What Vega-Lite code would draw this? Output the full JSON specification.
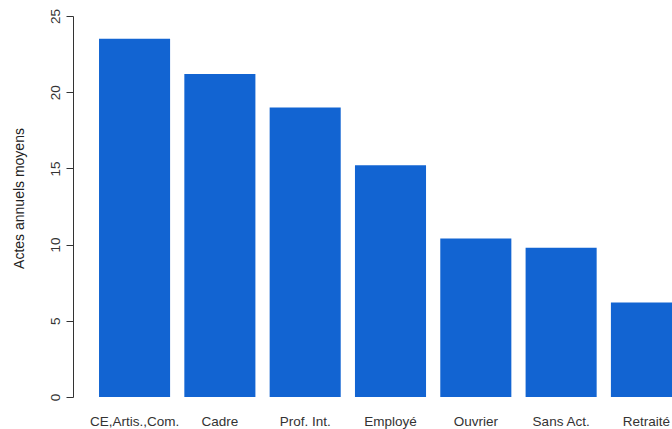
{
  "$schema": "https://vega.github.io/schema/vega-lite/v6.json",
  "autosize": {"type": "none"},
  "padding": {"left": 73, "top": 16, "right": 0, "bottom": 32},
  "width": 599,
  "height": 381,
  "background": "white",
  "config": {"view": {"stroke": null}, "font": "Liberation Sans"},
  "data": {"values": [
    {"cat": "CE,Artis.,Com.", "v": 23.5},
    {"cat": "Cadre", "v": 21.2},
    {"cat": "Prof. Int.", "v": 19.0},
    {"cat": "Employé", "v": 15.2},
    {"cat": "Ouvrier", "v": 10.4},
    {"cat": "Sans Act.", "v": 9.8},
    {"cat": "Retraité", "v": 6.2}
  ]},
  "mark": {"type": "bar", "color": "#1264d2"},
  "encoding": {
    "x": {"field": "cat", "type": "nominal", "sort": null,
      "scale": {"range": [0, 635], "paddingInner": 0.167, "paddingOuter": 0.305},
      "axis": {"title": null, "domain": false, "ticks": false, "labelAngle": 0, "labelPadding": 17, "labelFontSize": 13.5, "labelColor": "#333"}},
    "y": {"field": "v", "type": "quantitative",
      "scale": {"domain": [0, 25], "nice": false},
      "axis": {"title": "Actes annuels moyens", "values": [0, 5, 10, 15, 20, 25], "grid": false,
        "labelAngle": 270, "labelFontSize": 13.5, "labelColor": "#333", "labelPadding": 4,
        "tickSize": 7, "tickColor": "#333", "domainColor": "#333",
        "titleFontSize": 14, "titleFontWeight": "normal", "titleColor": "#222", "titlePadding": 22, "titleY": 182, "titleAlign": "center"}}
  }
}
